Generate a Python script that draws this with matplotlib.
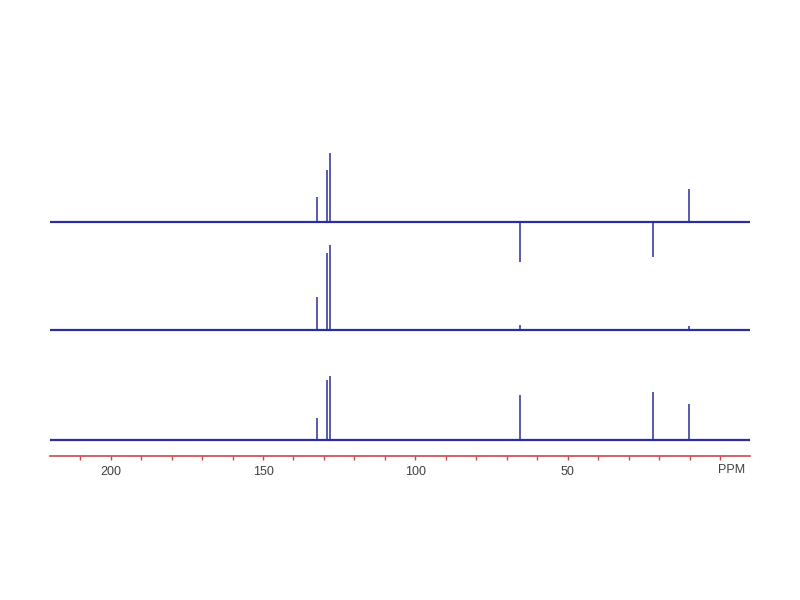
import matplotlib
matplotlib.use("Agg")
import matplotlib.pyplot as plt

# peak positions (ppm) and heights (px above baseline) for each DEPT trace
peak_ppm = [132.2, 129.1, 127.9, 65.7, 22.1, 10.1]
bottom_heights = [22, 60, 64, 45, 48, 36]      # full 13C
middle_heights = [33, 77, 85, 5, 0, 4]         # DEPT-90
top_heights = [25, 52, 69, -40, -35, 33]       # DEPT-135
baselines = [16, 126, 234]

tick_values = [200, 150, 100, 50]
tick_labels = ["200", "150", "100", "50"]

blue = "#2b2d9b"
red = "#d0454a"
grey = "#404040"

fig = plt.figure(figsize=(8, 6), dpi=100)
ax = fig.add_axes([50 / 800, 1 - 456 / 600, 700 / 800, 316 / 600])

x_left, x_right = 219.9, -9.8
for base, heights in zip(baselines, [bottom_heights, middle_heights, top_heights]):
    ax.hlines(base, x_right, x_left, color=blue, lw=1.6)
    for p, h in zip(peak_ppm, heights):
        if h != 0:
            ax.vlines(p, base, base + h, color=blue, lw=1.1)

ax.set_xlim(x_left, x_right)
ax.set_ylim(0, 316)

for s in ["top", "left", "right"]:
    ax.spines[s].set_visible(False)
ax.spines["bottom"].set_color(red)
ax.spines["bottom"].set_linewidth(1.2)
ax.set_yticks([])
ax.set_xticks(list(range(210, -1, -10)), minor=True)
ax.set_xticks(tick_values)
ax.set_xticklabels(tick_labels, fontfamily="Liberation Sans")
ax.tick_params(axis="x", which="both", direction="out", colors=red, length=3,
               width=1, labelcolor=grey, labelsize=9, pad=4)
ax.text(-3.9, -14, "PPM", ha="center", va="center", fontsize=9,
        color=grey, fontfamily="Liberation Sans")

fig.savefig("out.png", dpi=100)
